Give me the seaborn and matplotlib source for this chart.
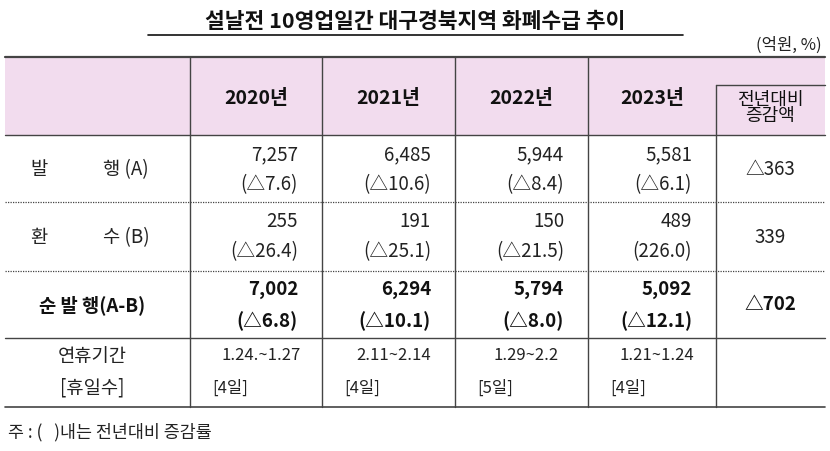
import matplotlib
matplotlib.use('Agg')
import matplotlib.pyplot as plt
from matplotlib import font_manager
import seaborn as sns

sns.set_theme(style='white')
names = {f.name for f in font_manager.fontManager.ttflist}
kr = next((n for n in ['Noto Sans CJK KR', 'Noto Sans CJK JP', 'Noto Sans CJK SC'] if n in names), 'DejaVu Sans')
plt.rcParams['font.family'] = kr
plt.rcParams['font.sans-serif'] = [kr, 'DejaVu Sans']

# data
years = ['2020년', '2021년', '2022년', '2023년']
issue = ['7,257', '6,485', '5,944', '5,581']
issue_pct = ['(△7.6)', '(△10.6)', '(△8.4)', '(△6.1)']
redeem = ['255', '191', '150', '489']
redeem_pct = ['(△26.4)', '(△25.1)', '(△21.5)', '(226.0)']
net = ['7,002', '6,294', '5,794', '5,092']
net_pct = ['(△6.8)', '(△10.1)', '(△8.0)', '(△12.1)']
holiday = ['1.24.~1.27', '2.11~2.14', '1.29~2.2', '1.21~1.24']
holiday_days = ['[4일]', '[4일]', '[5일]', '[4일]']
change = ['△363', '339', '△702']

fig = plt.figure(figsize=(8.3, 4.52), dpi=100)
ax = fig.add_axes([0, 0, 1, 1])
ax.set_xlim(0, 830)
ax.set_ylim(452, 0)
ax.axis('off')

cols = [5, 190, 322, 455, 588, 716, 825]
rows = [58, 136, 203, 272, 339, 408]
fs = 13.5

# header background
ax.add_patch(plt.Rectangle((cols[0], rows[0]), cols[-1] - cols[0], rows[1] - rows[0],
                           facecolor='#f2dcee', edgecolor='none'))

# title
ax.text(415, 22, '설날전 10영업일간 대구경북지역 화폐수급 추이', ha='center', va='center',
        fontsize=15.5, fontweight='bold', color='#111')
ax.plot([148, 683], [36, 36], color='#111', lw=1.2)
ax.text(822, 45, '(억원, %)', ha='right', va='center', fontsize=12, color='#222')

# lines
lc = '#444'
ax.plot([cols[0], cols[-1]], [rows[0], rows[0]], color=lc, lw=1.6)
ax.plot([cols[0], cols[-1]], [rows[1], rows[1]], color=lc, lw=1.0)
for y in (rows[2], rows[3]):
    ax.plot([cols[0], cols[-1]], [y, y], color=lc, lw=0.9, ls=(0, (1, 1)))
ax.plot([cols[0], cols[-1]], [rows[4], rows[4]], color=lc, lw=1.0)
ax.plot([cols[0], cols[-1]], [rows[5], rows[5]], color=lc, lw=1.2)
for x in cols[1:5]:
    ax.plot([x, x], [rows[0], rows[5]], color=lc, lw=1.0)
ax.plot([cols[5], cols[5]], [86, rows[5]], color=lc, lw=1.0)
ax.plot([cols[5], cols[-1]], [86, 86], color=lc, lw=1.0)

# header
for i, yr in enumerate(years):
    ax.text((cols[i + 1] + cols[i + 2]) / 2, 98, yr, ha='center', va='center',
            fontsize=14, fontweight='bold', color='#111')
ax.text(770, 108, '전년대비\n증감액', ha='center', va='center', fontsize=13,
        linespacing=0.9, color='#111')

# row labels
ax.text(30, 170, '발', ha='left', va='center', fontsize=fs, color='#222')
ax.text(103, 170, '행 (A)', ha='left', va='center', fontsize=fs, color='#222')
ax.text(30, 238, '환', ha='left', va='center', fontsize=fs, color='#222')
ax.text(103, 238, '수 (B)', ha='left', va='center', fontsize=fs, color='#222')
ax.text(92, 305, '순 발 행(A-B)', ha='center', va='center', fontsize=fs,
        fontweight='bold', color='#111')
ax.text(92, 357, '연휴기간', ha='center', va='center', fontsize=fs, color='#222')
ax.text(92, 388, '[휴일수]', ha='center', va='center', fontsize=fs, color='#222')

# values
for i in range(4):
    xr = cols[i + 2] - 24
    xc = (cols[i + 1] + cols[i + 2]) / 2
    ax.text(xr, 155, issue[i], ha='right', va='center', fontsize=fs, color='#222')
    ax.text(xr, 185, issue_pct[i], ha='right', va='center', fontsize=fs, color='#222')
    ax.text(xr, 222, redeem[i], ha='right', va='center', fontsize=fs, color='#222')
    ax.text(xr, 252, redeem_pct[i], ha='right', va='center', fontsize=fs, color='#222')
    ax.text(xr, 290, net[i], ha='right', va='center', fontsize=fs, fontweight='bold', color='#111')
    ax.text(xr, 321, net_pct[i], ha='right', va='center', fontsize=fs, fontweight='bold', color='#111')
    ax.text(xc + 5, 356, holiday[i], ha='center', va='center', fontsize=12, color='#222')
    ax.text(cols[i + 1] + 22, 388, holiday_days[i], ha='left', va='center', fontsize=12, color='#222')

ax.text(770, 170, change[0], ha='center', va='center', fontsize=fs, color='#222')
ax.text(770, 238, change[1], ha='center', va='center', fontsize=fs, color='#222')
ax.text(770, 305, change[2], ha='center', va='center', fontsize=fs, fontweight='bold', color='#111')

ax.text(8, 432, '주 : (   )내는 전년대비 증감률', ha='left', va='center', fontsize=12.5, color='#222')

fig.savefig('out.png', dpi=100)
